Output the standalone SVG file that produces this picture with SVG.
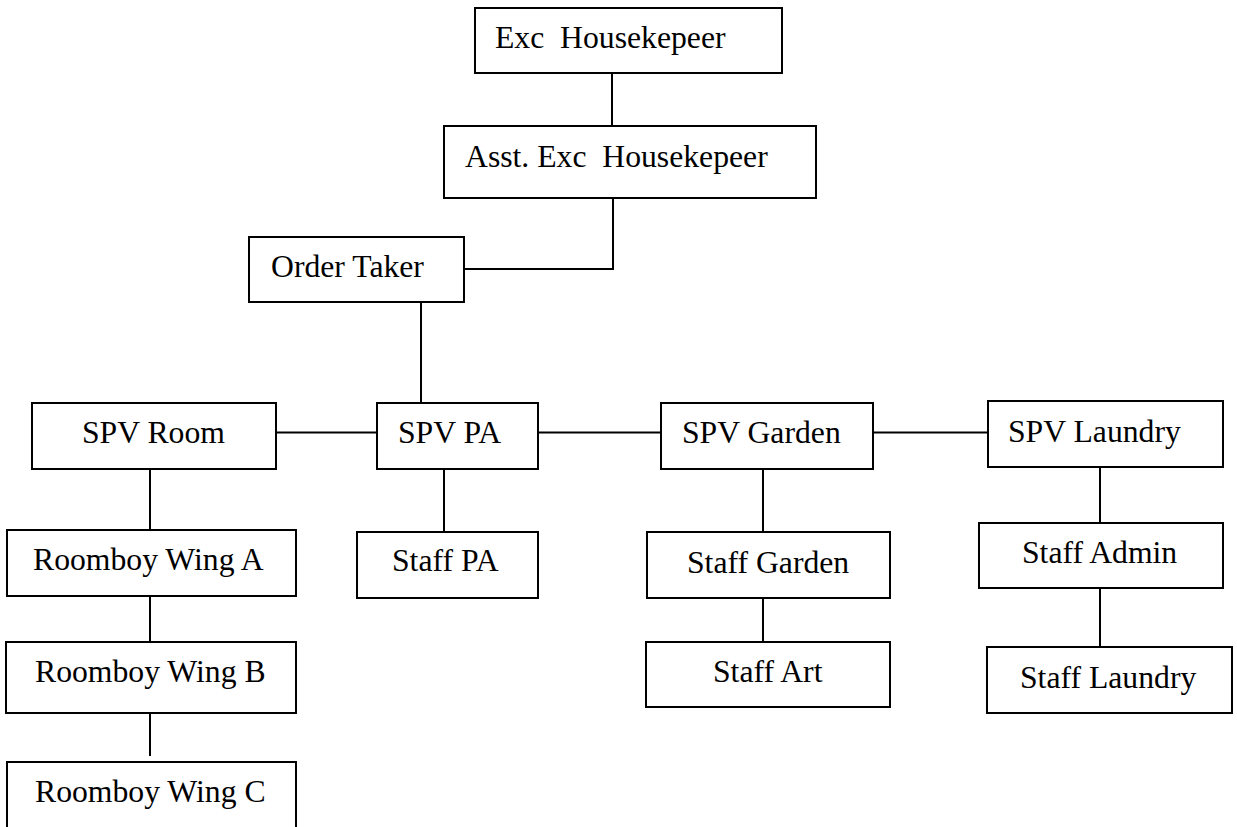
<svg xmlns="http://www.w3.org/2000/svg" width="1237" height="827" viewBox="0 0 1237 827">
<style>
rect.box{fill:#fff;stroke:#000;stroke-width:2}
text{font-family:"Liberation Serif","Times New Roman",serif;font-size:31.7px;fill:#000}
#connectors line,#connectors polyline{stroke:#000;stroke-width:2;fill:none}
</style>
<rect width="1237" height="827" fill="#fff"/>
<g id="connectors">
<line x1="612" y1="73" x2="612" y2="126"/>
<polyline points="613,198 613,269 464,269"/>
<line x1="421" y1="302" x2="421" y2="403"/>
<line x1="276" y1="432.5" x2="377" y2="432.5"/>
<line x1="538" y1="432.5" x2="661" y2="432.5"/>
<line x1="873" y1="432.5" x2="988" y2="432.5"/>
<line x1="150" y1="469" x2="150" y2="532"/>
<line x1="150" y1="596" x2="150" y2="642"/>
<line x1="150" y1="707" x2="150" y2="756"/>
<line x1="444" y1="467" x2="444" y2="531"/>
<line x1="763" y1="469" x2="763" y2="532"/>
<line x1="763" y1="598" x2="763" y2="643"/>
<line x1="1100" y1="467" x2="1100" y2="531"/>
<line x1="1100" y1="588" x2="1100" y2="652"/>
</g>
<g id="exc"><rect class="box" x="475" y="8" width="307" height="65"/><text x="495" y="48" xml:space="preserve">Exc  Housekepeer</text></g>
<g id="asst"><rect class="box" x="444" y="126" width="372" height="72"/><text x="465" y="167" xml:space="preserve">Asst. Exc  Housekepeer</text></g>
<g id="order"><rect class="box" x="249" y="237" width="215" height="65"/><text x="271" y="277">Order Taker</text></g>
<g id="spv-room"><rect class="box" x="32" y="403" width="244" height="66"/><text x="82" y="443">SPV Room</text></g>
<g id="spv-pa"><rect class="box" x="377" y="403" width="161" height="66"/><text x="398" y="443">SPV PA</text></g>
<g id="spv-garden"><rect class="box" x="661" y="403" width="212" height="66"/><text x="682" y="443">SPV Garden</text></g>
<g id="spv-laundry"><rect class="box" x="988" y="401" width="235" height="66"/><text x="1008" y="442">SPV Laundry</text></g>
<g id="roomboy-a"><rect class="box" x="7" y="530" width="289" height="66"/><text x="33" y="570">Roomboy Wing A</text></g>
<g id="roomboy-b"><rect class="box" x="6" y="642" width="290" height="71"/><text x="35" y="682">Roomboy Wing B</text></g>
<g id="roomboy-c"><rect class="box" x="7" y="762" width="289" height="70"/><text x="35" y="802">Roomboy Wing C</text></g>
<g id="staff-pa"><rect class="box" x="357" y="532" width="181" height="66"/><text x="392" y="571">Staff PA</text></g>
<g id="staff-garden"><rect class="box" x="647" y="532" width="243" height="66"/><text x="687" y="573">Staff Garden</text></g>
<g id="staff-art"><rect class="box" x="646" y="642" width="244" height="65"/><text x="713" y="682">Staff Art</text></g>
<g id="staff-admin"><rect class="box" x="979" y="523" width="244" height="65"/><text x="1022" y="563">Staff Admin</text></g>
<g id="staff-laundry"><rect class="box" x="987" y="647" width="245" height="66"/><text x="1020" y="688">Staff Laundry</text></g>
</svg>
